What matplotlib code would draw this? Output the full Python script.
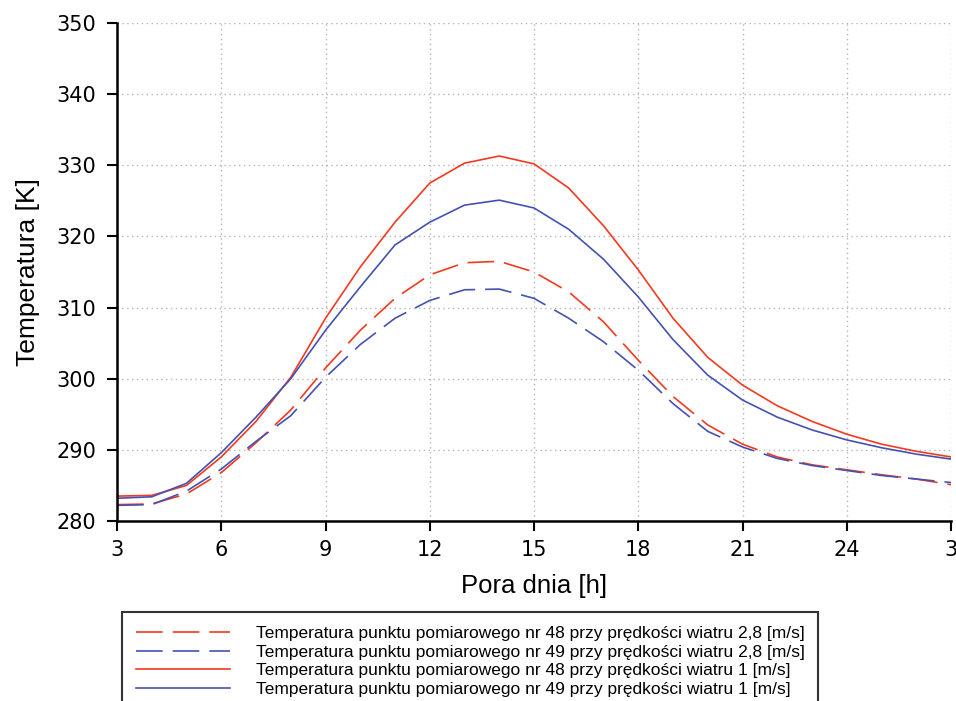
import matplotlib
matplotlib.use("Agg")
import matplotlib.pyplot as plt

# godziny 3..27 (27 = 3 następnego dnia)
hours = list(range(3, 28))

# nr 48, wiatr 2,8 m/s
t48_v28 = [282.3, 282.4, 283.8, 286.8, 291.0, 295.6, 301.5, 306.8, 311.3, 314.6, 316.3, 316.5,
           315.0, 312.2, 308.0, 302.6, 297.5, 293.5, 290.8, 289.0, 287.9, 287.2, 286.5, 285.9, 285.1]
# nr 49, wiatr 2,8 m/s
t49_v28 = [282.2, 282.3, 284.2, 287.3, 291.2, 294.8, 300.2, 304.8, 308.5, 311.0, 312.5, 312.6,
           311.3, 308.5, 305.2, 301.2, 296.5, 292.6, 290.4, 288.8, 287.8, 287.1, 286.4, 285.9, 285.4]
# nr 48, wiatr 1 m/s
t48_v1 = [283.5, 283.6, 285.0, 289.0, 294.0, 300.2, 308.5, 315.7, 322.0, 327.5, 330.3, 331.3,
          330.2, 326.8, 321.5, 315.3, 308.5, 303.0, 299.1, 296.2, 294.0, 292.2, 290.8, 289.8, 289.0]
# nr 49, wiatr 1 m/s
t49_v1 = [283.2, 283.4, 285.3, 289.6, 294.6, 300.0, 306.8, 312.9, 318.8, 322.0, 324.4, 325.1,
          324.0, 321.0, 316.8, 311.5, 305.5, 300.5, 297.0, 294.6, 292.8, 291.4, 290.3, 289.4, 288.7]

xticks = [3, 6, 9, 12, 15, 18, 21, 24, 27]
xticklabels = ["3", "6", "9", "12", "15", "18", "21", "24", "3"]
yticks = [280, 290, 300, 310, 320, 330, 340, 350]

labels = [
    "Temperatura punktu pomiarowego nr 48 przy prędkości wiatru 2,8 [m/s]",
    "Temperatura punktu pomiarowego nr 49 przy prędkości wiatru 2,8 [m/s]",
    "Temperatura punktu pomiarowego nr 48 przy prędkości wiatru 1 [m/s]",
    "Temperatura punktu pomiarowego nr 49 przy prędkości wiatru 1 [m/s]",
]

red = "#F5391F"
blue = "#4352B2"

fig = plt.figure(figsize=(9.56, 7.01), dpi=100)
ax = fig.add_axes([117 / 956, 1 - 521 / 701, (951 - 117) / 956, (521 - 23) / 701])

lw = 1.2
l1, = ax.plot(hours, t48_v28, color=red, lw=lw, dashes=(16, 6))
l2, = ax.plot(hours, t49_v28, color=blue, lw=lw, dashes=(16, 6))
l3, = ax.plot(hours, t48_v1, color=red, lw=lw)
l4, = ax.plot(hours, t49_v1, color=blue, lw=lw)

ax.set_xlim(3, 27)
ax.set_ylim(280, 350)
ax.set_xticks(xticks)
ax.set_xticklabels(xticklabels)
ax.set_yticks(yticks)
ax.grid(True, color="#B5B5B5", linestyle=(0, (1, 2.5)), lw=1.0)
ax.set_axisbelow(True)

for s in ["top", "right"]:
    ax.spines[s].set_visible(False)
for s in ["left", "bottom"]:
    ax.spines[s].set_linewidth(1.8)
ax.tick_params(direction="out", length=7, width=1.5, labelsize=15)
ax.tick_params(axis="y", pad=8)
ax.tick_params(axis="x", pad=7)
for t in ax.get_xticklabels() + ax.get_yticklabels():
    t.set_family("DejaVu Sans")

ax.set_xlabel("Pora dnia [h]", fontsize=18.5, family="Liberation Sans", labelpad=10)
ax.set_ylabel("Temperatura [K]", fontsize=19, family="Liberation Sans", labelpad=12)

leg = fig.legend([l1, l2, l3, l4], labels, loc="upper left",
                 bbox_to_anchor=(122 / 956, 1 - 612 / 701), borderaxespad=0,
                 prop={"family": "Liberation Sans", "size": 12.5},
                 handlelength=5.4, handletextpad=1.5, labelspacing=0.2,
                 borderpad=0.8, fancybox=False, frameon=True)
leg.get_frame().set_edgecolor("black")
leg.get_frame().set_linewidth(1.5)

fig.savefig("out.png", dpi=100)
